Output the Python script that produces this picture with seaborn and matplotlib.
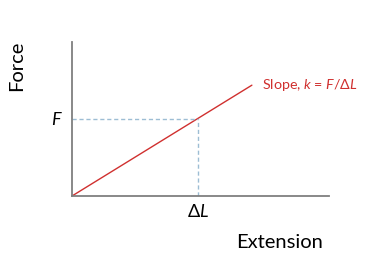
import matplotlib
matplotlib.use("Agg")
import matplotlib.pyplot as plt
import seaborn as sns
import pandas as pd

# Data
extension = [0.0, 0.70]
force = [0.0, 0.72]
F_value = 0.5
dL_value = 0.49
x_label = "Extension"
y_label = "Force"
slope_label = "Slope, $k$ = $F$/Δ$L$"

sns.set_style("white")
plt.rcParams['font.family'] = ['Lato', 'DejaVu Sans']
plt.rcParams['mathtext.fontset'] = 'custom'
plt.rcParams['mathtext.it'] = 'Lato:italic'
plt.rcParams['mathtext.rm'] = 'Lato'

fig = plt.figure(figsize=(3.79, 2.64), dpi=100)
ax = fig.add_axes([0.19, 0.2576, 0.678, 0.583])

df = pd.DataFrame({"x": extension, "y": force})
sns.lineplot(data=df, x="x", y="y", ax=ax, color="#d0302f", linewidth=1.0)

dash_col = "#9dbdd4"
ax.plot([0, dL_value], [F_value, F_value], linestyle=(0, (3, 2)), color=dash_col, linewidth=1.0)
ax.plot([dL_value, dL_value], [0, F_value], linestyle=(0, (3, 2)), color=dash_col, linewidth=1.0)

ax.set_xlim(0, 1)
ax.set_ylim(0, 1)
ax.set_xticks([])
ax.set_yticks([])
ax.set_xlabel("")
ax.set_ylabel("")
for s in ["top", "right"]:
    ax.spines[s].set_visible(False)
for s in ["left", "bottom"]:
    ax.spines[s].set_color("#7f7f7f")
    ax.spines[s].set_linewidth(1.3)

ax.text(-0.06, F_value, "$F$", fontsize=13, ha="center", va="center", color="black")
ax.text(dL_value, -0.10, "Δ$L$", fontsize=13, ha="center", va="center", color="black")
ax.text(0.74, 0.72, slope_label, fontsize=10.3, color="#d0302f", ha="left", va="center")

fig.text(280/379, 1 - 243/264, x_label, fontsize=14.5, ha="center", va="center", color="black")
fig.text(17/379, 1 - 66/264, y_label, fontsize=14.5, ha="center", va="center", rotation=90, color="black")

fig.savefig("out.png", dpi=100)
